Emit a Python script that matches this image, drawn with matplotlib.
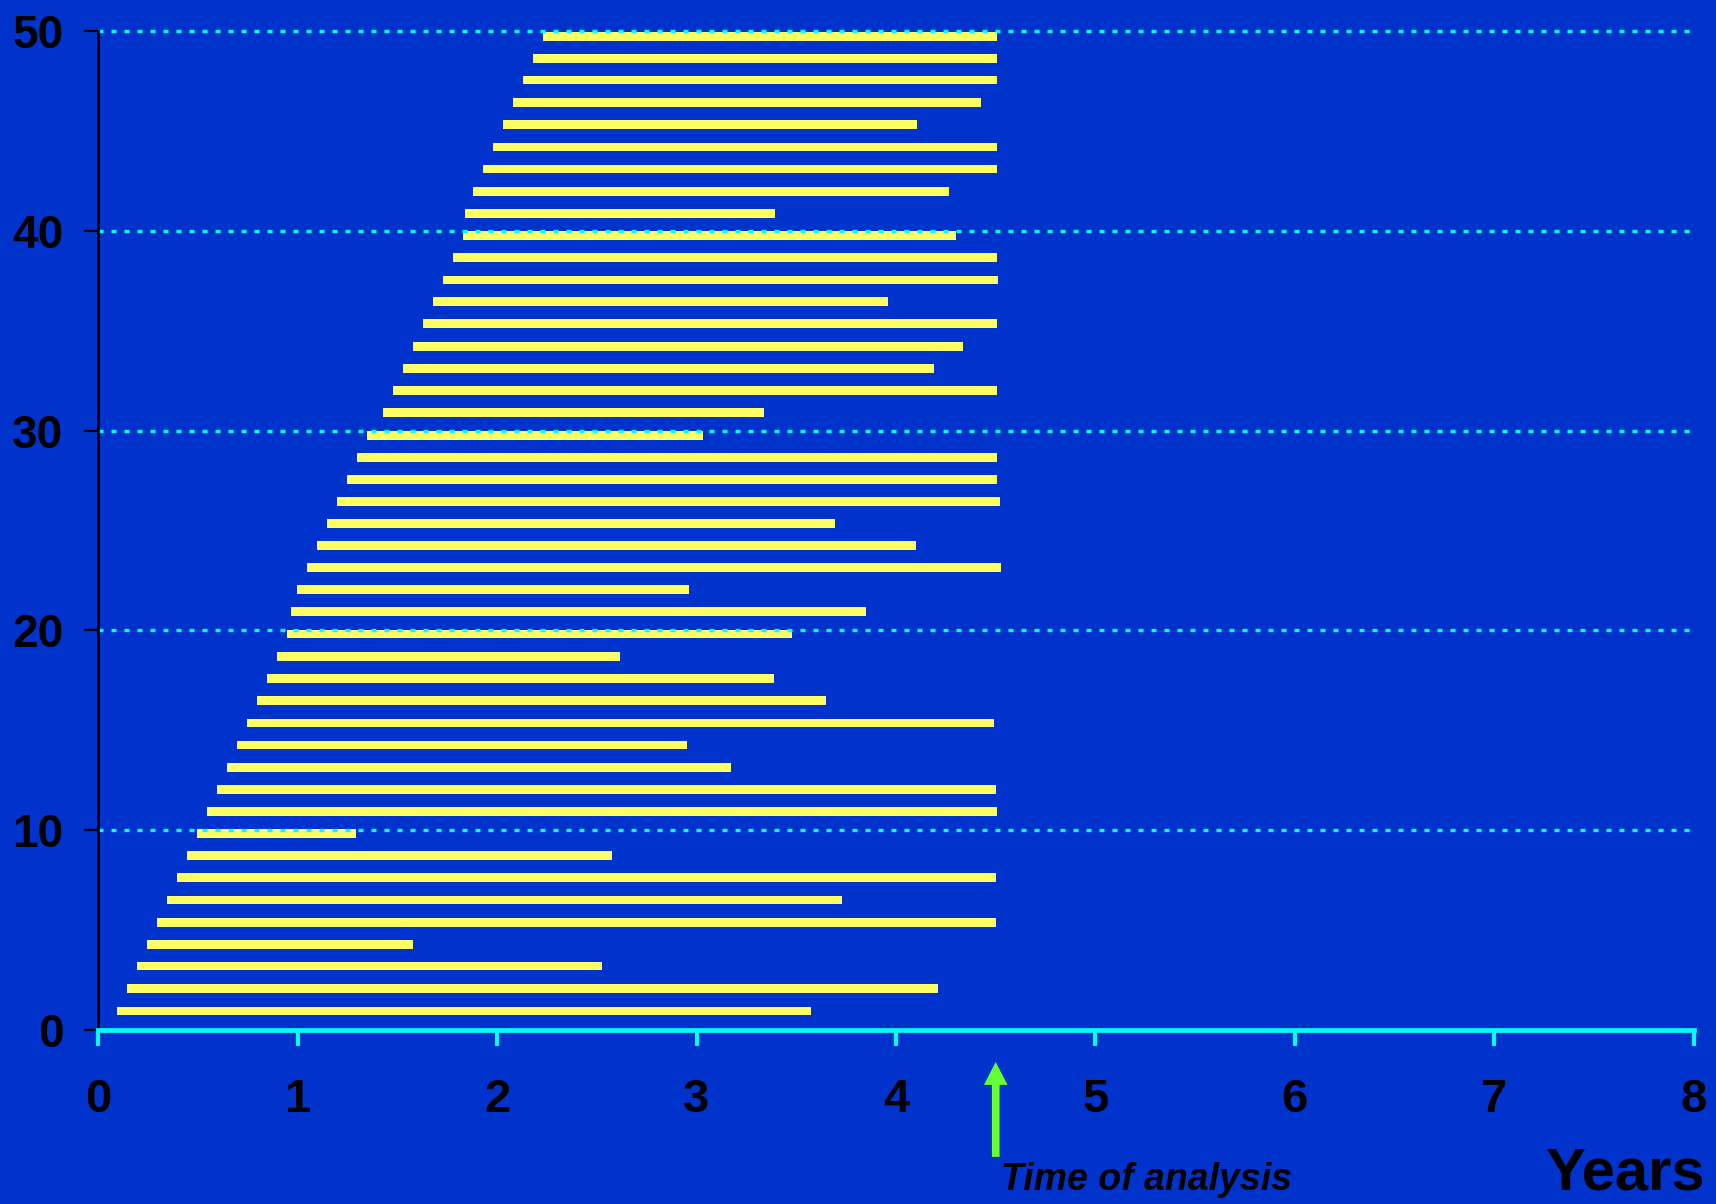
import matplotlib
matplotlib.use("Agg")
import matplotlib.pyplot as plt

# Patient rows: vertical position, entry time (years), end of follow-up (years)
patient_y = [0.95, 2.07, 3.20, 4.29, 5.39, 6.51, 7.62, 8.72, 9.82, 10.94,
             12.05, 13.15, 14.26, 15.37, 16.48, 17.58, 18.70, 19.82, 20.94, 22.04,
             23.16, 24.24, 25.34, 26.44, 27.54, 28.67, 29.77, 30.89, 32.01, 33.12,
             34.22, 35.34, 36.44, 37.54, 38.67, 39.75, 40.87, 41.97, 43.09, 44.19,
             45.32, 46.42, 47.54, 48.64, 49.74]
entry_time = [0.093, 0.143, 0.193, 0.243, 0.293, 0.343, 0.394, 0.444, 0.494, 0.544,
              0.594, 0.644, 0.694, 0.744, 0.794, 0.844, 0.894, 0.945, 0.964, 0.995,
              1.045, 1.095, 1.147, 1.197, 1.247, 1.297, 1.348, 1.427, 1.477, 1.527,
              1.577, 1.627, 1.678, 1.728, 1.778, 1.828, 1.838, 1.878, 1.928, 1.978,
              2.029, 2.079, 2.129, 2.179, 2.229]
end_time = [3.574, 4.212, 2.524, 1.580, 4.500, 3.731, 4.501, 2.576, 1.290, 4.507,
            4.501, 3.173, 2.952, 4.491, 3.649, 3.388, 2.615, 3.478, 3.850, 2.962,
            4.527, 4.100, 3.694, 4.522, 4.507, 4.507, 3.030, 3.337, 4.507, 4.190,
            4.336, 4.507, 3.960, 4.512, 4.507, 4.301, 3.393, 4.266, 4.507, 4.507,
            4.105, 4.426, 4.507, 4.507, 4.507]

x_ticks = [0, 1, 2, 3, 4, 5, 6, 7, 8]
y_ticks = [0, 10, 20, 30, 40, 50]
analysis_time = 4.5

BG = "#0033CC"
BAR = "#FFFF66"
CYAN = "#00FFFF"
GREEN = "#66FF33"
FONT = ["Liberation Sans", "DejaVu Sans"]

fig = plt.figure(figsize=(17.16, 12.04), dpi=100, facecolor=BG)
ax = fig.add_axes([0.0573, 0.1445, 0.9297, 0.8298])
ax.set_facecolor(BG)

durations = [e - s for s, e in zip(entry_time, end_time)]
ax.barh(patient_y, durations, left=entry_time, height=0.44, color=BAR,
        edgecolor="none", zorder=2)

ax.set_xlim(0, 8)
ax.set_ylim(0, 50)
ax.set_xticks(x_ticks)
ax.set_yticks(y_ticks)

for yv in y_ticks[1:]:
    ax.axhline(yv, color=CYAN, lw=2.4, linestyle=(0, (1.5, 2.4)), zorder=3,
               clip_on=False)

for side in ("top", "right"):
    ax.spines[side].set_visible(False)
ax.spines["left"].set_color("black")
ax.spines["left"].set_linewidth(2.0)
ax.spines["left"].set_zorder(3.5)
ax.spines["bottom"].set_color(CYAN)
ax.spines["bottom"].set_linewidth(3.4)
ax.spines["bottom"].set_zorder(4)

ax.tick_params(axis="y", direction="out", length=10, width=1.6, color="black",
               pad=15, labelsize=33, labelcolor="black")
ax.tick_params(axis="x", direction="out", length=11.3, width=3.0, color=CYAN,
               pad=23, labelsize=34, labelcolor="black")
for lab in ax.get_yticklabels() + ax.get_xticklabels():
    lab.set_fontweight("bold")
    lab.set_family(FONT)

ax.annotate("", xy=(analysis_time, -0.032), xycoords=("data", "axes fraction"),
            xytext=(analysis_time, -0.127), textcoords=("data", "axes fraction"),
            arrowprops=dict(facecolor=GREEN, edgecolor="none", width=5.5,
                            headwidth=17, headlength=16.5, shrink=0),
            annotation_clip=False)

ax.text(4.527, -0.160, "Time of analysis", transform=ax.get_xaxis_transform(),
        ha="left", va="baseline", fontsize=27, fontweight="bold", style="italic",
        family=FONT, color="black", clip_on=False)
ax.text(7.254, -0.160, "Years", transform=ax.get_xaxis_transform(),
        ha="left", va="baseline", fontsize=43, fontweight="bold",
        family=FONT, color="black", clip_on=False)

fig.savefig("out.png", dpi=100, facecolor=BG)
